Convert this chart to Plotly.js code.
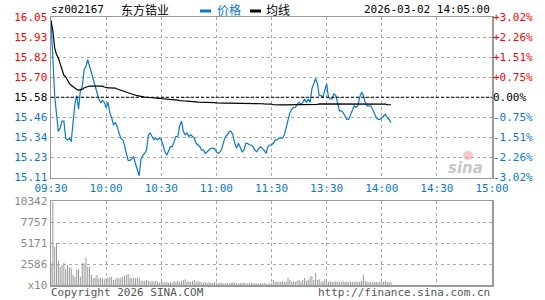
<!DOCTYPE html>
<html>
<head>
<meta charset="utf-8">
<script src="https://cdn.plot.ly/plotly-3.0.1.min.js"></script>
<style>
html,body{margin:0;padding:0;background:#fff;}
#chart{width:545px;height:300px;}
</style>
</head>
<body>
<div id="chart"></div>
<script>
// ---------- data ----------
const stockCode = 'sz002167';
const stockName = '东方锆业';
const dateTime = '2026-03-02 14:05:00';
const prevClose = 15.58;
const maxPct = 3.02;
const volMax = 10342;

const timeLabels = ['09:30','10:00','10:30','11:00','11:30','13:30','14:00','14:30','15:00'];
const priceTickText = ['15.11','15.23','15.34','15.46','15.58','15.70','15.82','15.93','16.05'];
const pctTickText = ['-3.02%','-2.26%','-1.51%','-0.75%','0.00%','+0.75%','+1.51%','+2.26%','+3.02%'];
const volTickText = ['x10','2586','5171','7757','10342'];

// per-minute price (09:30 .. 14:05)
const price = [
16.03,15.80,15.59,15.48,15.38,15.40,15.44,15.44,15.34,15.33,
15.34,15.32,15.44,15.54,15.59,15.51,15.62,15.64,15.74,15.76,
15.80,15.76,15.73,15.68,15.65,15.60,15.57,15.55,15.56,15.55,
15.52,15.55,15.49,15.46,15.42,15.43,15.41,15.37,15.34,15.33,
15.30,15.25,15.21,15.21,15.22,15.23,15.19,15.15,15.12,15.22,
15.24,15.25,15.27,15.36,15.37,15.35,15.33,15.34,15.33,15.34,
15.33,15.30,15.26,15.24,15.27,15.29,15.29,15.32,15.35,15.35,
15.41,15.44,15.38,15.36,15.37,15.35,15.36,15.35,15.34,15.31,
15.30,15.29,15.27,15.27,15.25,15.26,15.27,15.28,15.28,15.28,
15.26,15.25,15.26,15.28,15.32,15.35,15.36,15.38,15.38,15.36,
15.31,15.28,15.31,15.28,15.26,15.27,15.31,15.31,15.30,15.30,
15.29,15.27,15.26,15.28,15.29,15.28,15.27,15.25,15.29,15.30,
15.30,15.31,15.33,15.33,15.34,15.34,15.34,15.36,15.41,15.44,
15.49,15.51,15.52,15.52,15.54,15.55,15.54,15.55,15.57,15.55,
15.57,15.55,15.63,15.66,15.69,15.66,15.59,15.59,15.58,15.62,
15.66,15.58,15.57,15.57,15.60,15.59,15.55,15.50,15.50,15.49,
15.47,15.45,15.45,15.48,15.51,15.53,15.52,15.53,15.58,15.61,
15.59,15.55,15.53,15.53,15.53,15.51,15.48,15.46,15.45,15.45,
15.46,15.47,15.48,15.46,15.45,15.43
];

// per-minute average price line
const avgPrice = [
16.030,15.970,15.870,15.830,15.810,15.780,15.750,15.710,15.700,15.680,
15.660,15.650,15.640,15.630,15.625,15.622,15.622,15.626,15.634,15.640,
15.643,15.645,15.645,15.645,15.645,15.645,15.645,15.645,15.645,15.640,
15.636,15.635,15.635,15.635,15.635,15.634,15.628,15.624,15.620,15.616,
15.612,15.608,15.605,15.600,15.597,15.595,15.592,15.589,15.586,15.584,
15.582,15.581,15.580,15.579,15.578,15.576,15.576,15.576,15.576,15.576,
15.575,15.570,15.569,15.568,15.568,15.568,15.567,15.566,15.565,15.563,
15.560,15.558,15.558,15.558,15.557,15.557,15.557,15.556,15.555,15.553,
15.552,15.552,15.552,15.551,15.551,15.551,15.550,15.550,15.549,15.548,
15.547,15.546,15.546,15.546,15.546,15.546,15.546,15.546,15.546,15.545,
15.545,15.545,15.543,15.543,15.542,15.542,15.542,15.542,15.542,15.542,
15.542,15.542,15.542,15.542,15.542,15.542,15.541,15.541,15.541,15.541,
15.540,15.536,15.535,15.535,15.535,15.535,15.535,15.535,15.535,15.535,
15.535,15.535,15.535,15.535,15.535,15.535,15.535,15.535,15.535,15.535,
15.535,15.535,15.536,15.536,15.537,15.538,15.541,15.541,15.541,15.541,
15.542,15.542,15.542,15.542,15.542,15.542,15.542,15.542,15.542,15.542,
15.542,15.542,15.542,15.542,15.542,15.542,15.542,15.542,15.542,15.542,
15.542,15.542,15.542,15.542,15.542,15.542,15.542,15.542,15.542,15.541,
15.541,15.541,15.540,15.537,15.536,15.536
];

// per-minute volume (lots, x10)
const volume = [
2740,10250,4710,5200,2990,2170,2460,2740,1930,2460,
2170,2050,1230,1020,1850,1970,1020,2740,2650,3360,
2250,2250,1230,820,900,1230,820,900,820,700,
820,900,1020,1020,610,700,900,820,900,1020,
1100,1230,1350,900,820,900,820,900,820,530,
530,490,610,530,410,530,410,530,410,290,
370,410,330,370,290,410,290,490,370,490,
370,530,610,700,410,490,370,490,610,410,
530,410,330,290,370,250,330,290,250,330,
250,210,290,250,170,210,250,210,290,330,
250,210,170,250,210,290,210,170,210,250,
170,210,170,130,210,170,250,170,130,210,
170,615,410,410,370,410,450,370,410,860,
615,410,450,370,530,660,410,615,860,490,
660,1020,1100,615,1520,615,700,410,490,740,
410,370,450,410,370,450,410,370,410,450,
370,410,330,450,370,410,450,370,410,490,
1230,490,410,330,370,330,410,370,330,410,
330,370,530,370,330,330
];

// ---------- layout helpers (pixel -> paper) ----------
const W = 545, H = 300;
const px = v => v / W;
const py = v => (H - v) / H;

const minuteIdx = price.map((_, i) => i);
const volIdx = volume.map((_, i) => i);
const timeVals = timeLabels.map((_, k) => k * 30);

const RED = '#ff0000', BLUE = '#0a78cc', GRAY = '#888888';
const priceTickVals = priceTickText.map((_, k) => prevClose * (1 + (k - 4) * maxPct / 4 / 100));
const priceTickColored = priceTickText.map((t, k) =>
  `<span style="color:${k > 4 ? RED : (k < 4 ? BLUE : '#000')}">${t}</span>`);
const pctTickVals = pctTickText.map((_, k) => (k - 4) * maxPct / 4);
const pctTickColored = pctTickText.map((t, k) =>
  `<span style="color:${k > 4 ? RED : (k < 4 ? BLUE : '#000')}">${t}</span>`);
const volTickVals = volTickText.map((_, k) => k * volMax / 4);

const mono = 'DejaVu Sans Mono, Liberation Mono, monospace';
const cjk = 'Noto Sans CJK SC, sans-serif';

const xDom = [px(51), px(492)];
const priceDom = [py(177.5), py(17)];
const volDom = [py(285), py(201)];

const traces = [
  { x: minuteIdx, y: price, type: 'scatter', mode: 'lines', name: '价格',
    line: { color: BLUE, width: 1.2 }, xaxis: 'x', yaxis: 'y', hoverinfo: 'skip' },
  { x: minuteIdx, y: avgPrice, type: 'scatter', mode: 'lines', name: '均线',
    line: { color: '#000', width: 1.2 }, xaxis: 'x', yaxis: 'y', hoverinfo: 'skip' },
  { x: [0], y: [0], type: 'scatter', mode: 'markers', marker: { opacity: 0 },
    xaxis: 'x', yaxis: 'y2', showlegend: false, hoverinfo: 'skip' },
  { x: volIdx, y: volume, type: 'bar', name: '成交量', width: 0.55,
    marker: { color: '#999999', line: { width: 0 } }, xaxis: 'x2', yaxis: 'y3', hoverinfo: 'skip' }
];

const gridCommon = { showgrid: true, gridcolor: '#aaaaaa', gridwidth: 1, griddash: 'dot',
  zeroline: false, ticks: '', showline: true, linecolor: '#999999', linewidth: 1.5, mirror: true };

const layout = {
  width: W, height: H,
  margin: { l: 0, r: 0, t: 0, b: 0 },
  paper_bgcolor: '#fff', plot_bgcolor: '#fff',
  showlegend: false,
  font: { family: mono, size: 10, color: '#000' },
  xaxis: Object.assign({}, gridCommon, {
    domain: xDom, range: [0, 240], tickmode: 'array', tickvals: timeVals, ticktext: timeLabels,
    tickfont: { family: mono, size: 11, color: BLUE }, anchor: 'y', fixedrange: true
  }),
  yaxis: Object.assign({}, gridCommon, {
    domain: priceDom, range: [prevClose * (1 - maxPct / 100), prevClose * (1 + maxPct / 100)],
    tickmode: 'array', tickvals: priceTickVals, ticktext: priceTickColored,
    tickfont: { family: mono, size: 11 }, anchor: 'x', side: 'left'
  }),
  yaxis2: {
    overlaying: 'y', side: 'right', anchor: 'x', range: [-maxPct, maxPct],
    tickmode: 'array', tickvals: pctTickVals, ticktext: pctTickColored,
    tickfont: { family: mono, size: 11 }, showgrid: false, zeroline: false, ticks: '', showline: false
  },
  xaxis2: Object.assign({}, gridCommon, {
    domain: xDom, range: [0, 240], tickmode: 'array', tickvals: timeVals,
    showticklabels: false, anchor: 'y3'
  }),
  yaxis3: Object.assign({}, gridCommon, {
    domain: volDom, range: [0, volMax], tickmode: 'array', tickvals: volTickVals, ticktext: volTickText,
    tickfont: { family: mono, size: 11, color: GRAY }, anchor: 'x2'
  }),
  bargap: 0.4,
  shapes: [
    { type: 'line', xref: 'x', yref: 'y', x0: 0, x1: 240, y0: prevClose, y1: prevClose,
      line: { color: '#000', width: 1, dash: '3px,2px' } },
    { type: 'rect', xref: 'paper', yref: 'paper', x0: px(200), x1: px(211), y0: py(12.5), y1: py(9.5),
      fillcolor: BLUE, line: { width: 0 } },
    { type: 'rect', xref: 'paper', yref: 'paper', x0: px(250), x1: px(261), y0: py(12.5), y1: py(9.5),
      fillcolor: '#000', line: { width: 0 } },
    { type: 'circle', xref: 'paper', yref: 'paper', x0: px(463), x1: px(473), y0: py(160), y1: py(151),
      fillcolor: 'rgba(240,130,130,0.45)', line: { width: 0 } }
  ],
  annotations: [
    { text: stockCode, xref: 'paper', yref: 'paper', x: px(49), y: py(10), xanchor: 'left', yanchor: 'middle',
      showarrow: false, font: { family: mono, size: 11, color: '#000' } },
    { text: stockName, xref: 'paper', yref: 'paper', x: px(119), y: py(10), xanchor: 'left', yanchor: 'middle',
      showarrow: false, font: { family: cjk, size: 12, color: '#000' } },
    { text: '价格', xref: 'paper', yref: 'paper', x: px(215), y: py(10), xanchor: 'left', yanchor: 'middle',
      showarrow: false, font: { family: cjk, size: 12, color: BLUE } },
    { text: '均线', xref: 'paper', yref: 'paper', x: px(264), y: py(10), xanchor: 'left', yanchor: 'middle',
      showarrow: false, font: { family: cjk, size: 12, color: '#000' } },
    { text: dateTime, xref: 'paper', yref: 'paper', x: px(492), y: py(10), xanchor: 'right', yanchor: 'middle',
      showarrow: false, font: { family: mono, size: 11, color: '#000' } },
    { text: 'Copyright 2026 SINA.COM', xref: 'paper', yref: 'paper', x: px(49), y: py(292), xanchor: 'left', yanchor: 'middle',
      showarrow: false, font: { family: mono, size: 11, color: '#555' } },
    { text: 'http://finance.sina.com.cn', xref: 'paper', yref: 'paper', x: px(492), y: py(292), xanchor: 'right', yanchor: 'middle',
      showarrow: false, font: { family: mono, size: 11, color: '#555' } },
    { text: '<b><i>sina</i></b>', xref: 'paper', yref: 'paper', x: px(465), y: py(168), xanchor: 'center', yanchor: 'middle',
      showarrow: false, font: { family: 'DejaVu Sans, sans-serif', size: 15, color: 'rgba(150,150,150,0.55)' } }
  ]
};

Plotly.newPlot('chart', traces, layout, { staticPlot: true, displayModeBar: false });
</script>
</body>
</html>
